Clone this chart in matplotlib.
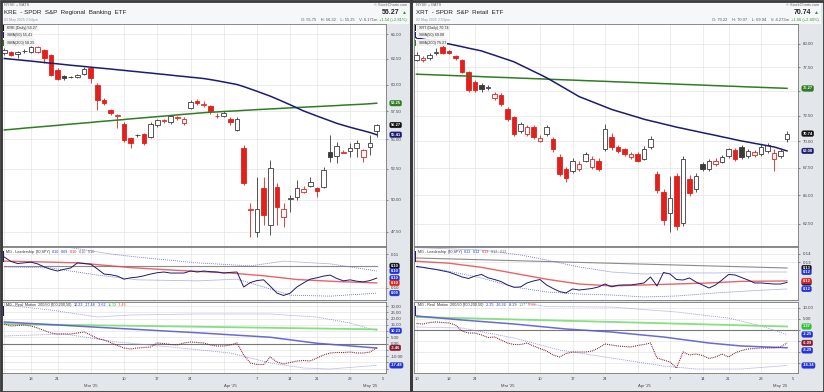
# -*- coding: utf-8 -*-
import numpy as np
import pandas as pd
import matplotlib
matplotlib.use('Agg')
import matplotlib.pyplot as plt
import matplotlib.transforms as mtransforms
from matplotlib.patches import Rectangle
from matplotlib.ticker import FixedLocator, NullLocator, FixedFormatter

plt.rcParams['font.family'] = ['Liberation Sans', 'DejaVu Sans']

W, H = 824, 392
holidays = ['2025-02-17', '2025-04-18']


def trading_days(start, end):
    d = pd.bdate_range(start, end)
    return d[~d.isin(pd.to_datetime(holidays))]


kre_days = trading_days('2025-02-11', '2025-05-02')
xrt_days = trading_days('2025-02-10', '2025-05-02')

# ---------------- KRE ----------------
kre_open = [63.07, 63.17, 62.97, 63.25, 63.20, 63.20, 63.37, 62.87, 61.40, 60.80, 60.70, 60.72, 61.01, 61.59, 59.95,
            58.55, 57.62, 57.08, 56.36, 55.12, 55.42, 55.47, 55.22, 56.27, 56.62, 56.54, 56.88, 56.45, 57.81, 58.45,
            58.10, 58.00, 57.05, 57.08, 56.80, 55.85, 54.26, 49.15, 47.52, 50.93, 48.04, 51.01, 48.65, 50.05, 50.21,
            50.60, 51.09, 50.93, 51.01, 53.92, 53.58, 53.85, 54.00, 54.26, 53.49, 54.35, 55.75]
kre_high = [63.57, 63.30, 63.25, 63.45, 63.80, 63.80, 63.50, 63.00, 61.60, 60.95, 60.85, 61.00, 61.70, 61.70, 60.14,
            58.70, 57.75, 57.30, 56.50, 55.20, 55.50, 55.60, 56.50, 56.85, 56.85, 57.20, 57.10, 56.95, 58.50, 58.60,
            58.45, 58.10, 57.35, 57.50, 56.95, 57.00, 54.52, 49.74, 51.82, 51.82, 53.24, 51.33, 49.74, 50.40, 51.60,
            51.05, 51.82, 51.00, 52.65, 55.39, 54.80, 54.05, 54.69, 54.95, 54.20, 55.39, 56.32]
kre_low = [62.87, 62.80, 62.57, 63.05, 63.10, 63.10, 62.08, 60.80, 60.40, 60.40, 60.60, 60.60, 60.90, 60.14, 57.62,
           58.10, 57.20, 56.00, 54.80, 54.26, 55.20, 54.50, 55.10, 56.10, 56.45, 56.40, 56.70, 56.30, 57.70, 58.10,
           57.90, 57.30, 56.90, 56.95, 56.30, 55.70, 51.20, 47.15, 47.15, 48.04, 47.30, 48.04, 47.90, 49.00, 50.00,
           50.50, 51.00, 50.21, 50.90, 53.07, 53.00, 53.80, 53.49, 53.49, 53.07, 53.66, 55.25]
kre_close = [63.37, 62.87, 63.17, 63.27, 63.70, 63.65, 62.57, 60.91, 60.53, 60.58, 60.74, 60.91, 61.50, 60.62, 58.55,
             58.27, 57.35, 57.20, 54.95, 54.69, 55.36, 54.69, 56.36, 56.72, 56.68, 57.08, 56.95, 56.80, 58.36, 58.27,
             58.20, 57.50, 57.12, 57.35, 56.55, 56.80, 51.33, 49.22, 49.27, 48.81, 52.56, 49.43, 49.27, 50.15, 50.93,
             50.88, 51.41, 50.69, 52.40, 53.49, 54.43, 53.95, 54.26, 54.69, 54.09, 54.73, 56.27]
kre_sma50 = [62.53, 62.46, 62.40, 62.33, 62.27, 62.20, 62.13, 62.06, 62.00, 61.93, 61.86, 61.80, 61.74, 61.67, 61.61,
             61.55, 61.49, 61.42, 61.36, 61.29, 61.23, 61.16, 61.10, 61.03, 60.97, 60.90, 60.83, 60.77, 60.70, 60.64,
             60.57, 60.47, 60.36, 60.24, 60.12, 60.00, 59.80, 59.58, 59.36, 59.13, 58.90, 58.64, 58.37, 58.10, 57.82,
             57.54, 57.31, 57.08, 56.86, 56.64, 56.42, 56.24, 56.07, 55.91, 55.76, 55.60, 55.41]
kre_sma200 = [55.83, 55.88, 55.93, 55.99, 56.04, 56.09, 56.14, 56.19, 56.24, 56.30, 56.35, 56.40, 56.45, 56.50, 56.56,
              56.61, 56.66, 56.71, 56.76, 56.82, 56.87, 56.92, 56.97, 57.02, 57.07, 57.12, 57.18, 57.23, 57.28, 57.33,
              57.38, 57.42, 57.45, 57.49, 57.52, 57.55, 57.59, 57.62, 57.66, 57.69, 57.72, 57.75, 57.79, 57.82, 57.85,
              57.88, 57.91, 57.94, 57.97, 58.00, 58.03, 58.07, 58.10, 58.13, 58.16, 58.20, 58.25]

kre_lead = [.1091, .1078, .1072, .1074, .1076, .1071, .1062, .1055, .1050, .1055, .1059, .1074, .1072, .1070, .1056,
            .1041, .1039, .1035, .1026, .1030, .1032, .1036, .1041, .1045, .1047, .1044, .1044, .1044, .1050, .1047,
            .1050, .1048, .1047, .1044, .1046, .1047, .1003, .1016, .1022, .1024, .1005, .0985, .0978, .0985, .1003,
            .1015, .1026, .1030, .1035, .1038, .1028, .1021, .1024, .1020, .1018, .1022, .1029]
kre_lead_ma_x = [0, 5, 11, 15, 19, 25, 30, 34, 39, 44, 50, 56]
kre_lead_ma = [.1079, .1077, .1074, .1067, .1060, .1053, .1048, .1044, .1036, .1025, .1019, .1015]
kre_lead_level = .1065
kre_lead_up_x = [0, 8, 16, 20, 29, 37, 42, 49, 56]
kre_lead_up = [.1140, .1125, .1100, .1091, .1074, .1065, .1079, .1071, .1050]
kre_lead_dn_x = [0, 7, 14, 20, 29, 35, 39, 43, 49, 56]
kre_lead_dn = [.1062, .1059, .1038, .1024, .1021, .1026, .1003, .0979, .0976, .0985]

kre_rm = [15.6, 14.0, 14.4, 14.8, 14.0, 12.4, 10.4, 8.4, 7.6, 7.6, 7.6, 8.4, 9.2, 6.8, 4.0, 2.8, 0.8, -1.6, -3.6, -4.4,
          -3.6, -3.2, -2.8, 0.4, 0.0, -0.8, -1.2, 0.4, 1.2, 0.8, 0.4, -1.2, -2.0, -2.0, -1.2, 0.4, -9.2, -15.6, -16.8,
          -16.8, -10.8, -14.8, -16.4, -15.2, -14.0, -13.6, -14.0, -11.6, -9.2, -7.6, -7.2, -7.2, -6.8, -7.6, -7.6,
          -6.8, -3.46]
kre_rm_green_x = [0, 28, 56]
kre_rm_green = [15.6, 13.5, 11.32]
kre_rm_blue_x = [0, 14, 29, 40, 47, 56]
kre_rm_blue = [17.2, 13.0, 8.6, 5.0, 0.2, -3.62]
kre_rm_up_x = [0, 7, 14, 19, 29, 40, 47, 52, 56]
kre_rm_up = [30.8, 26.8, 21.2, 22.8, 23.6, 23.6, 21.2, 16.4, 10.23]
kre_rm_dn_x = [0, 9, 17, 25, 34, 40, 45, 49, 56]
kre_rm_dn = [6.0, 7.6, 1.2, -2.8, -7.6, -15.6, -19.6, -20.4, -17.48]

# ---------------- XRT ----------------
xrt_open = [78.30, 78.30, 78.50, 79.05, 79.67, 79.20, 78.70, 78.27, 77.00, 75.90, 75.65, 75.30, 74.33, 74.63, 73.13,
            72.35, 71.00, 70.70, 71.37, 70.00, 70.70, 70.22, 68.53, 67.42, 67.24, 67.42, 68.16, 67.60, 68.16, 69.27,
            70.41, 69.46, 69.27, 68.53, 68.81, 68.34, 69.46, 66.97, 65.30, 63.40, 66.70, 62.60, 66.50, 65.60, 67.88,
            67.42, 67.88, 68.00, 68.60, 69.20, 69.46, 68.60, 68.70, 68.81, 69.10, 68.30, 68.60, 70.22]
xrt_high = [79.10, 78.70, 79.00, 79.60, 79.90, 79.30, 78.85, 78.40, 77.10, 76.10, 75.80, 75.60, 74.90, 74.80, 73.40,
            72.50, 71.90, 71.60, 71.60, 70.60, 71.60, 70.40, 68.80, 67.60, 68.40, 68.10, 69.00, 68.60, 68.40, 71.66,
            70.80, 69.60, 69.40, 68.95, 69.00, 69.50, 70.50, 67.20, 65.60, 66.70, 67.00, 68.60, 66.80, 67.00, 68.00,
            68.30, 68.40, 68.70, 69.40, 69.40, 69.60, 69.30, 69.20, 69.70, 69.80, 69.30, 69.30, 70.97]
xrt_low = [78.10, 78.00, 78.30, 78.80, 78.90, 78.90, 78.30, 76.90, 74.90, 74.90, 74.90, 75.10, 74.10, 73.50, 72.00,
           70.50, 70.80, 70.50, 70.20, 69.90, 70.50, 69.00, 66.70, 66.20, 67.00, 67.20, 68.00, 67.40, 67.20, 69.10,
           69.20, 68.90, 68.60, 68.30, 68.00, 68.20, 69.30, 65.20, 62.40, 61.80, 62.00, 62.30, 64.90, 65.30, 67.20,
           67.20, 67.70, 67.90, 68.40, 68.10, 68.30, 68.40, 68.50, 68.60, 68.90, 67.24, 68.40, 69.94]
xrt_close = [78.80, 78.45, 78.80, 79.15, 79.02, 79.00, 78.50, 77.00, 75.14, 75.05, 75.20, 75.40, 74.70, 73.63, 72.15,
             70.70, 71.66, 71.37, 70.41, 70.35, 71.37, 69.27, 66.97, 66.52, 68.16, 67.88, 68.81, 68.34, 67.42, 71.18,
             69.46, 69.08, 68.81, 68.75, 68.16, 69.27, 70.22, 65.50, 62.80, 64.80, 62.35, 68.34, 65.20, 66.70, 67.42,
             68.16, 68.10, 68.53, 69.27, 68.34, 68.53, 69.08, 69.00, 69.46, 69.60, 68.90, 69.08, 70.74]
xrt_sma50 = [80.66, 80.53, 80.40, 80.26, 80.13, 80.00, 79.85, 79.70, 79.54, 79.39, 79.24, 79.00, 78.77, 78.53, 78.30,
             78.06, 77.72, 77.39, 77.05, 76.72, 76.38, 75.99, 75.60, 75.21, 74.82, 74.43, 74.17, 73.91, 73.65, 73.39,
             73.13, 72.93, 72.74, 72.54, 72.35, 72.15, 71.99, 71.84, 71.68, 71.53, 71.37, 71.24, 71.10, 70.97, 70.83,
             70.70, 70.57, 70.43, 70.30, 70.16, 70.03, 69.92, 69.80, 69.69, 69.57, 69.46, 69.27, 69.08]
xrt_sma200 = [76.75, 76.72, 76.70, 76.67, 76.65, 76.62, 76.59, 76.57, 76.54, 76.52, 76.49, 76.46, 76.44, 76.41, 76.39,
              76.36, 76.33, 76.31, 76.28, 76.26, 76.23, 76.20, 76.18, 76.15, 76.13, 76.10, 76.07, 76.05, 76.02, 76.00,
              75.97, 75.94, 75.92, 75.89, 75.87, 75.84, 75.81, 75.79, 75.76, 75.74, 75.71, 75.68, 75.66, 75.63, 75.61,
              75.58, 75.55, 75.53, 75.50, 75.48, 75.45, 75.42, 75.40, 75.37, 75.35, 75.32, 75.30, 75.27]

xrt_lead = [.1244, .1234, .1219, .1206, .1190, .1173, .1144, .1113, .1094, .1125, .1144, .1103, .1081, .1056, .1013,
            .0984, .0988, .1038, .1063, .1081, .1013, .0969, .0931, .0913, .0963, .0950, .0959, .0969, .0988, .1025,
            .0990, .1010, .1013, .1013, .1025, .1038, .1113, .1000, .1169, .1150, .1081, .1075, .1100, .1050, .1013,
            .0975, .1013, .1075, .1144, .1138, .1106, .1075, .1038, .1038, .1031, .1025, .1025, .1044]
xrt_lead_ma_x = [0, 5, 10, 15, 20, 25, 30, 35, 40, 45, 50, 57]
xrt_lead_ma = [.1309, .1285, .1233, .1159, .1085, .1025, .1001, .1013, .1025, .1038, .1058, .1063]
xrt_lead_level_x = [0, 57]
xrt_lead_level = [.1350, .1225]
xrt_lead_up_x = [0, 10, 16, 20, 25, 30, 35, 40, 46, 51, 57]
xrt_lead_up = [.1480, .1450, .1388, .1325, .1238, .1175, .1150, .1163, .1163, .1175, .1175]
xrt_lead_dn_x = [0, 4, 10, 15, 20, 25, 30, 35, 40, 46, 51, 57]
xrt_lead_dn = [.1238, .1200, .1100, .0988, .0925, .0900, .0888, .0863, .0875, .0913, .0938, .0963]

xrt_rm = [2.73, 2.50, 3.18, 3.41, 3.18, 2.95, 2.05, -0.68, -1.59, -1.59, -2.50, -3.64, -3.41, -4.77, -6.14, -6.82,
          -6.82, -6.14, -7.50, -8.64, -9.77, -11.59, -12.50, -10.91, -10.23, -10.23, -10.23, -9.77, -8.41, -6.59,
          -7.05, -7.50, -7.73, -7.95, -7.27, -6.82, -6.14, -12.95, -13.86, -14.77, -17.50, -10.23, -11.59, -11.14,
          -11.82, -13.18, -12.50, -11.14, -12.50, -10.68, -9.55, -8.86, -8.64, -8.41, -8.41, -8.41, -7.95, -6.09]
xrt_rm_green_x = [0, 28, 57]
xrt_rm_green = [5.68, 3.6, 1.37]
xrt_rm_blue_x = [0, 7, 15, 23, 30, 38, 45, 50, 57]
xrt_rm_blue = [6.14, 4.32, 2.5, 0.23, -1.14, -3.41, -6.14, -7.5, -8.29]
xrt_rm_up_x = [0, 10, 15, 20, 30, 40, 48, 53, 57]
xrt_rm_up = [17.0, 14.5, 12.8, 10.4, 10.2, 7.95, 5.2, 1.6, -2.25]
xrt_rm_dn_x = [0, 7, 15, 22, 30, 38, 43, 50, 57]
xrt_rm_dn = [1.14, 0.68, -3.86, -9.32, -12.95, -16.59, -17.95, -17.95, -16.34]

# ---------------------------------------------------------------
RED = '#e3211c'
BLK = '#3a3a3a'
NAVY = '#1b1b72'
GREEN = '#2f7d22'
BLUE = '#2233d8'
GRID = '#e4e4e4'

fig = plt.figure(figsize=(W / 100, H / 100), dpi=100, facecolor='#e3e6ea')


def box(x0, y0, x1, y1):
    return [x0 / W, 1 - y1 / H, (x1 - x0) / W, (y1 - y0) / H]


def ftext(x, y, s, **kw):
    return fig.text(x / W, 1 - y / H, s, **kw)


renderer = fig.canvas.get_renderer()


def pieces(x, y, parts, size=3.0):
    # write coloured text pieces one after another, starting at pixel x
    for s, col in parts:
        t = ftext(x, y, s, fontsize=size, color=col, va='center', ha='left')
        x += t.get_window_extent(renderer).width + 1.5


def style_axes(ax, days, x0, x1):
    ax.set_facecolor('white')
    for sp in ax.spines.values():
        sp.set_color('#777777')
        sp.set_linewidth(0.6)
    ax.set_xlim(x0, x1)
    ax.yaxis.tick_right()
    ax.tick_params(axis='y', labelsize=3.2, colors='#444444', length=1.5, width=0.4, pad=2)
    ax.tick_params(axis='x', length=0, labelbottom=False)
    weeks = pd.Series(np.arange(len(days)), index=days).groupby(days.isocalendar().week.values).first().values
    for w in weeks:
        ax.axvline(w, color=GRID, lw=0.5, zorder=0)
    ax.yaxis.grid(True, color=GRID, lw=0.5, zorder=0)
    ax.set_axisbelow(True)


def set_ticks(ax, vals, shown=None):
    # gridlines at every value, labels only where the tags leave them visible
    shown = vals if shown is None else shown
    ax.yaxis.set_major_locator(FixedLocator(vals))
    ax.yaxis.set_minor_locator(NullLocator())
    ax.yaxis.set_major_formatter(FixedFormatter(['%.2f' % v if v in shown else '' for v in vals]))


def tag(ax, val, txt, col, fg='white'):
    tr = mtransforms.blended_transform_factory(ax.transAxes, ax.transData)
    ax.text(1.012, val, txt, transform=tr, fontsize=2.9, color=fg, fontweight='bold', va='center', ha='left',
            clip_on=False, zorder=20,
            bbox=dict(boxstyle='round,pad=0.2,rounding_size=0.4', fc=col, ec=col, lw=0.3))


def candles(ax, o, h, l, c):
    o, h, l, c = map(np.asarray, (o, h, l, c))
    x = np.arange(len(c))
    prev = np.r_[o[0], c[:-1]]
    col = np.where(c >= prev, BLK, RED)
    fill = np.where(c < o, col, 'white')
    ax.vlines(x, l, h, colors=col, lw=0.6, zorder=2)
    body = np.maximum(np.abs(c - o), 0.02)
    ax.bar(x, body, bottom=np.minimum(o, c), width=0.7, color=fill, edgecolor=col, lw=0.6, zorder=3)


def panel(px, days, title, sym, info, o, h, l, c, sma50, sma200, ptick, plim,
          lead, lead_ma_x, lead_ma, lev_x, lev, lup_x, lup, ldn_x, ldn, lticks, llim, ltitle, ltags,
          rm, g_x, g, b_x, b, rup_x, rup, rdn_x, rdn, rticks, rshown, rlim, rtitle, rtags, x_off, dx):
    x0 = (px + 2 - x_off) / dx
    x1 = (px + 386 - x_off) / dx
    n = len(days)
    xs = np.arange(n)

    # header
    fig.patches.append(Rectangle((px / W, 1 - 24 / H), 409 / W, 22 / H, transform=fig.transFigure,
                                 fc='#f6f7f9', ec='none', zorder=0))
    ftext(px + 4, 5, 'NYSE + BATS', fontsize=2.8, color='#666666', va='center')
    ftext(px + 4, 12.5, title, fontsize=4.5, color='#222222', va='center')
    ftext(px + 4, 20, '02 May 2025 2:5%dpm' % (4 if sym == 'KRE' else 3), fontsize=2.6, color='#999999',
          va='center')
    ftext(px + 407, 5, '\u00a9 StockCharts.com', fontsize=2.8, color='#666666', va='center', ha='right')
    ftext(px + 399, 13, '%.2f' % c[-1], fontsize=5.0, color='#222222', va='center', ha='right',
          fontweight='bold')
    ftext(px + 407, 13, '\u25b2', fontsize=3.6, color='#2a9a2a', va='center', ha='right')
    t = ftext(px + 407, 20, info[1], fontsize=2.9, color='#2a9a2a', va='center', ha='right')
    wdt = t.get_window_extent(renderer).width
    ftext(px + 405 - wdt, 20, info[0], fontsize=2.9, color='#555555', va='center', ha='right')

    # price
    ax = fig.add_axes(box(px + 2, 24, px + 386, 246))
    ax.set_yscale('log')
    style_axes(ax, days, x0, x1)
    ax.set_ylim(*plim)
    set_ticks(ax, ptick)
    candles(ax, o, h, l, c)
    ax.plot(xs, sma200, color=GREEN, lw=1.1, zorder=4)
    ax.plot(xs, sma50, color=NAVY, lw=1.1, zorder=4)
    tag(ax, sma200[-1], '%.2f' % sma200[-1], GREEN)
    tag(ax, c[-1], '%.2f' % c[-1], '#111111')
    tag(ax, sma50[-1], '%.2f' % sma50[-1], NAVY)
    legend = [('%s (Daily) %.2f' % (sym, c[-1]), '#111111'), ('SMA(50) %.2f' % sma50[-1], NAVY),
              ('SMA(200) %.2f' % sma200[-1], GREEN)]
    for k, (s, col) in enumerate(legend):
        yy = 28 + 7.3 * k
        ax.text(0.012, 1 - (yy - 24) / 222, s, transform=ax.transAxes, fontsize=2.7, color='#333333',
                va='center', ha='left', zorder=21,
                bbox=dict(boxstyle='square,pad=0.3', fc='#f2f2f2', ec='none', alpha=0.95))
        ax.add_patch(Rectangle((0.002, 1 - (yy - 24 + 3) / 222), 0.004, 6 / 222, transform=ax.transAxes,
                               fc=col, ec='none', zorder=22))

    # leadership
    ax2 = fig.add_axes(box(px + 2, 247, px + 386, 300))
    style_axes(ax2, days, x0, x1)
    ax2.set_ylim(*llim)
    set_ticks(ax2, lticks)
    ax2.plot(lev_x, lev, color='#8a8a8a', lw=0.8, zorder=3)
    ax2.plot(lup_x, lup, color='#6f74e0', lw=0.6, ls=(0, (1.2, 1.2)), zorder=3)
    ax2.plot(ldn_x, ldn, color='#6f74e0', lw=0.6, ls=(0, (1.2, 1.2)), zorder=3)
    ax2.plot(lead_ma_x, lead_ma, color='#e8484a', lw=1.0, alpha=0.85, zorder=4)
    ax2.plot(xs, lead, color=NAVY, lw=0.7, zorder=5)
    for v, s, col in ltags:
        tag(ax2, v, s, col)
    ax2.add_patch(Rectangle((0.002, 0.72), 0.004, 0.2, transform=ax2.transAxes, fc=NAVY, ec='none', zorder=6))
    pieces(px + 6, 252, ltitle, size=2.7)

    # real motion
    ax3 = fig.add_axes(box(px + 2, 302, px + 386, 373))
    style_axes(ax3, days, x0, x1)
    ax3.set_ylim(*rlim)
    set_ticks(ax3, rticks, rshown)
    ax3.axhline(0, color='#777777', lw=0.8, zorder=3)
    ax3.plot(rup_x, rup, color='#8f8fe6', lw=0.6, ls=(0, (1.2, 1.2)), zorder=3)
    ax3.plot(rdn_x, rdn, color='#8f8fe6', lw=0.6, ls=(0, (1.2, 1.2)), zorder=3)
    ax3.plot(g_x, g, color='#86e07e', lw=1.3, zorder=4)
    ax3.plot(b_x, b, color='#5a5ad0', lw=1.1, alpha=0.9, zorder=4)
    ax3.plot(xs, rm, color='#7a1420', lw=0.8, ls=(0, (0.8, 0.9)), zorder=5)
    for v, s, col in rtags:
        tag(ax3, v, s, col)
    ax3.add_patch(Rectangle((0.002, 0.8), 0.004, 0.15, transform=ax3.transAxes, fc=NAVY, ec='none', zorder=6))
    pieces(px + 6, 305, rtitle, size=2.7)

    # date labels
    tr = mtransforms.blended_transform_factory(ax3.transData, ax3.transAxes)
    for d in ['2025-02-10', '2025-02-18', '2025-02-24', '2025-03-10', '2025-03-17', '2025-03-24', '2025-04-07',
              '2025-04-14', '2025-04-21', '2025-04-28', '2025-05-05']:
        if pd.Timestamp(d) < days[0]:
            continue
        ax3.text(days.searchsorted(pd.Timestamp(d)), -0.085, str(pd.Timestamp(d).day), transform=tr,
                 fontsize=3.0, color='#444444', ha='center', va='center', clip_on=False)
    for d, s in [('2025-03-03', "Mar '25"), ('2025-04-01', "Apr '25"), ('2025-05-01', "May '25")]:
        ax3.text(days.searchsorted(pd.Timestamp(d)), -0.185, s, transform=tr, fontsize=3.0, color='#444444',
                 ha='center', va='center', clip_on=False)


panel(0, kre_days, 'KRE  - SPDR  S&P  Regional  Banking  ETF', 'KRE',
      ('O: 55.75    H: 56.32    L: 55.25    V: 6.171m', '+1.54 (+2.81%)'),
      kre_open, kre_high, kre_low, kre_close, kre_sma50, kre_sma200,
      [47.5, 50, 52.5, 55, 57.5, 60, 62.5, 65], (46.45, 66.04),
      kre_lead, kre_lead_ma_x, kre_lead_ma, [0, 56], [kre_lead_level, kre_lead_level],
      kre_lead_up_x, kre_lead_up, kre_lead_dn_x, kre_lead_dn, [0.11, 0.10], (0.09647, 0.11206),
      [('MG - Leadership', '#333333'), ('(20,SPY)', '#333333'), ('0.10', BLUE), ('0.09', BLUE), ('0.10', RED),
       ('0.10', '#666666'), ('0.10', '#666666')],
      [(kre_lead_level, '0.10', '#111111'), (kre_lead_up[-1], '0.10', BLUE), (kre_lead[-1], '0.10', BLUE),
       (kre_lead_ma[-1], '0.10', RED), (kre_lead_dn[-1], '0.09', BLUE)],
      kre_rm, kre_rm_green_x, kre_rm_green, kre_rm_blue_x, kre_rm_blue, kre_rm_up_x, kre_rm_up,
      kre_rm_dn_x, kre_rm_dn, [30, 25, 20, 15, 10, 5, 0, -5, -10, -15, -20], [30, 25, 20, 15, 5, 0, -10],
      (-23.6, 33.2),
      [('MG - Real  Motion  200/50', '#333333'), ('(200,200,50)', '#333333'), ('10.23', BLUE),
       ('-17.48', BLUE), ('-3.62', BLUE), ('11.32', '#33bb33'), ('-3.46', '#d06020')],
      [(kre_rm_up[-1], '10.23', BLUE), (kre_rm[-1], '-3.46', '#8b1a2a'), (kre_rm_dn[-1], '-17.48', BLUE)],
      4.3, 6.65)

panel(412, xrt_days, 'XRT  - SPDR  S&P  Retail  ETF', 'XRT',
      ('O: 70.22    H: 70.97    L: 69.94    V: 4.273m', '+1.66 (+2.40%)'),
      xrt_open, xrt_high, xrt_low, xrt_close, xrt_sma50, xrt_sma200,
      [62.5, 65, 67.5, 70, 72.5, 75, 77.5, 80], (60.63, 82.22),
      xrt_lead, xrt_lead_ma_x, xrt_lead_ma, xrt_lead_level_x, xrt_lead_level,
      xrt_lead_up_x, xrt_lead_up, xrt_lead_dn_x, xrt_lead_dn, [0.14, 0.13], (0.0825, 0.14875),
      [('MG - Leadership', '#333333'), ('(20,SPY)', '#333333'), ('0.13', BLUE), ('0.12', BLUE), ('0.13', RED),
       ('0.12', '#666666'), ('0.13', '#666666')],
      [(xrt_lead_level[-1], '0.13', '#111111'), (xrt_lead_up[-1], '0.12', BLUE), (xrt_lead[-1], '0.12', NAVY),
       (xrt_lead_ma[-1], '0.12', RED), (xrt_lead_dn[-1], '0.12', BLUE)],
      xrt_rm, xrt_rm_green_x, xrt_rm_green, xrt_rm_blue_x, xrt_rm_blue, xrt_rm_up_x, xrt_rm_up,
      xrt_rm_dn_x, xrt_rm_dn, [10, 5, 0, -5, -10, -15], [10, 5], (-19.77, 12.5),
      [('MG - Real  Motion  200/50', '#333333'), ('(200,200,50)', '#333333'), ('-2.25', BLUE),
       ('-16.34', BLUE), ('-8.29', BLUE), ('1.37', '#33bb33'), ('-6.09', '#d06020')],
      [(xrt_rm_green[-1], '1.37', '#33c233'), (xrt_rm_up[-1], '-2.25', BLUE), (xrt_rm[-1], '-6.09', '#8b1a2a'),
       (xrt_rm_blue[-1] - 1.2, '-8.29', BLUE), (xrt_rm_dn[-1], '-16.34', BLUE)],
      416.5, 6.5)

# outer frame and separator
fig.patches.append(Rectangle((0.5 / W, 0.5 / H), (W - 1) / W, (H - 1) / H, transform=fig.transFigure,
                             fill=False, ec='#3a3a3a', lw=2.0, zorder=30))
fig.patches.append(Rectangle((410 / W, 0), 2.5 / W, 1, transform=fig.transFigure, fc='#3a3a3a', ec='none',
                             zorder=30))

fig.savefig('out.png', dpi=100, facecolor=fig.get_facecolor())
